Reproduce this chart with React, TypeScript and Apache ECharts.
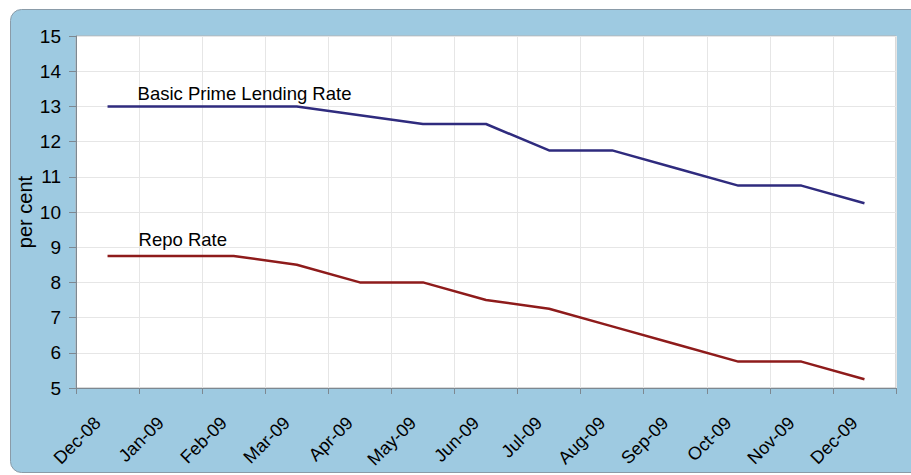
import React, { useEffect, useRef } from "react";
import * as echarts from "echarts";

const months = [
  "Dec-08", "Jan-09", "Feb-09", "Mar-09", "Apr-09", "May-09", "Jun-09",
  "Jul-09", "Aug-09", "Sep-09", "Oct-09", "Nov-09", "Dec-09",
];
const bplrValues = [13, 13, 13, 13, 12.75, 12.5, 12.5, 11.75, 11.75, 11.25, 10.75, 10.75, 10.25];
const repoValues = [8.75, 8.75, 8.75, 8.5, 8, 8, 7.5, 7.25, 6.75, 6.25, 5.75, 5.75, 5.25];
const bplrName = "Basic Prime Lending Rate";
const repoName = "Repo Rate";
const yMin = 5;
const yMax = 15;
const yStep = 1;

const FONT = "'Liberation Sans', Arial, sans-serif";

function withStartLabel(values: number[], name: string, offset: [number, number]) {
  return values.map((v, i) =>
    i === 0
      ? {
          value: v,
          label: {
            show: true,
            formatter: name,
            position: "right",
            distance: 0,
            offset,
            color: "#000",
            fontSize: 18.5,
            fontFamily: FONT,
          },
        }
      : v
  );
}

export default function App() {
  const ref = useRef<HTMLDivElement>(null);
  useEffect(() => {
    if (!ref.current) return;
    const chart = echarts.init(ref.current, undefined, { renderer: "svg" });
    chart.setOption({
      animation: false,
      textStyle: { fontFamily: FONT },
      graphic: [
        {
          type: "rect",
          z: -10,
          silent: true,
          shape: { x: 10.5, y: 9.5, width: 930, height: 463, r: 11 },
          style: { fill: "#9ecae1", stroke: "#8a9ba8", lineWidth: 1 },
        },
      ],
      grid: {
        left: 76,
        right: 15,
        top: 36,
        bottom: 87,
        show: true,
        backgroundColor: "#ffffff",
        borderColor: "#b4b4b4",
        borderWidth: 1,
        containLabel: false,
      },
      xAxis: {
        type: "category",
        data: months,
        boundaryGap: true,
        axisLine: { lineStyle: { color: "#7d8891", width: 1 } },
        axisTick: { show: true, interval: 0, length: 6, lineStyle: { color: "#7d8891" } },
        splitLine: { show: true, interval: 0, lineStyle: { color: "#e6e6e6", width: 1 } },
        axisLabel: {
          interval: 0,
          rotate: 45,
          fontSize: 18,
          color: "#000",
          margin: 22,
          padding: [0, 14, 0, 0],
          fontFamily: FONT,
        },
      },
      yAxis: {
        type: "value",
        min: yMin,
        max: yMax,
        interval: yStep,
        name: "per cent",
        nameLocation: "middle",
        nameRotate: 90,
        nameGap: 41,
        nameMoveOverlap: false,
        nameTextStyle: { fontSize: 20, color: "#000", fontFamily: FONT },
        axisLine: { show: true, lineStyle: { color: "#7d8891", width: 1 } },
        axisTick: { show: true, length: 7, lineStyle: { color: "#7d8891" } },
        splitLine: { show: true, lineStyle: { color: "#e6e6e6", width: 1 } },
        axisLabel: { fontSize: 19, color: "#000", margin: 15, fontFamily: FONT },
      },
      series: [
        {
          name: bplrName,
          type: "line",
          data: withStartLabel(bplrValues, bplrName, [30, -13]),
          showSymbol: true,
          symbol: "circle",
          symbolSize: 0,
          lineStyle: { color: "#2f2b7e", width: 2.5 },
          itemStyle: { color: "#2f2b7e" },
        },
        {
          name: repoName,
          type: "line",
          data: withStartLabel(repoValues, repoName, [31, -17]),
          showSymbol: true,
          symbol: "circle",
          symbolSize: 0,
          lineStyle: { color: "#8e1b1b", width: 2.5 },
          itemStyle: { color: "#8e1b1b" },
        },
      ],
    });
    return () => chart.dispose();
  }, []);
  return (
    <div
      ref={ref}
      style={{ position: "absolute", left: 0, top: 0, width: 911, height: 475 }}
    />
  );
}
